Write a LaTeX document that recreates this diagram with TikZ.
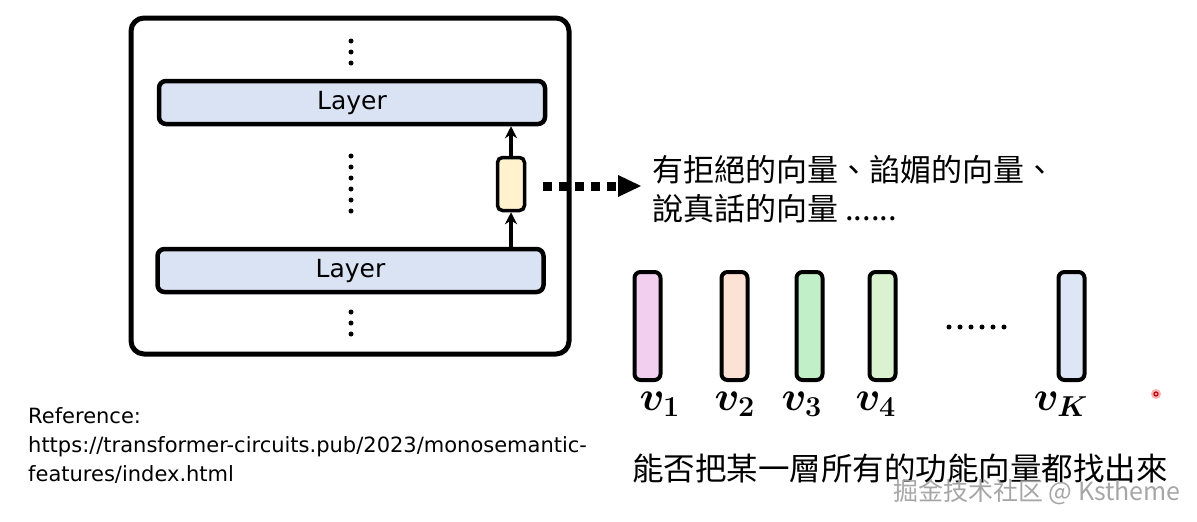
\documentclass[tikz,border=0pt]{standalone}
\usepackage{fontspec}
\usepackage{bm}
\setmainfont{DejaVu Sans}
\newfontfamily\cjk{Noto Sans CJK TC}
\usetikzlibrary{arrows.meta}
\definecolor{layerblue}{HTML}{DAE3F3}
\definecolor{ybox}{HTML}{FFF2CC}
\definecolor{cpink}{HTML}{F2CEEF}
\definecolor{cpeach}{HTML}{FBE2D5}
\definecolor{cgreen}{HTML}{C1F0C8}
\definecolor{clgreen}{HTML}{DAF2D0}
\definecolor{clblue}{HTML}{DCE6F5}
\begin{document}
\begin{tikzpicture}[x=1pt,y=-1pt,
  layerbox/.style={draw=black,line width=4.5pt,rounded corners=7pt,fill=layerblue,minimum width=386pt,minimum height=43pt,inner sep=0pt,font=\fontsize{25}{30}\selectfont},
  vecbox/.style={draw=black,line width=4pt,rounded corners=6pt,minimum width=26pt,minimum height=108pt,inner sep=0pt},
  dotcol/.style={fill=black,circle,inner sep=0pt,minimum size=5pt},
  smallarrow/.style={line width=3.3pt,-{Stealth[length=12pt,width=12pt]}},
  cjktext/.style={font=\cjk\fontsize{31}{40}\selectfont,anchor=west,inner sep=0pt},
  veclabel/.style={font=\fontsize{20}{20}\selectfont,inner sep=0pt}
]
\useasboundingbox (0,0) rectangle (1197,522);
% outer frame
\draw[line width=5pt,rounded corners=13pt] (131,18) rectangle (569,354);
% layers
\node[layerbox] (L1) at (352,102.5) {Layer};
\node[layerbox] (L2) at (350.5,270.5) {Layer};
% dots
\foreach \y in {41,52,63} \node[dotcol] at (351,\y) {};
\foreach \y in {156,167,178,189,200,211} \node[dotcol] at (351,\y) {};
\foreach \y in {312,323,334} \node[dotcol] at (351,\y) {};
% small yellow box
\node[draw=black,line width=3.5pt,rounded corners=5pt,fill=ybox,minimum width=27pt,minimum height=53pt,inner sep=0pt] (Y) at (511,184) {};
\draw[smallarrow] (L2.north -| Y.south) -- (Y.south);
\draw[smallarrow] (Y.north) -- (L1.south -| Y.north);
% texts
\node[cjktext] (T1) at (652,170) {有拒絕的向量、諂媚的向量、};
\node[cjktext] (T2) at (652,209) {說真話的向量 ......};
\coordinate (DS) at (543,186);
\coordinate (DE) at (641,186);
\draw[line width=9pt,dash pattern=on 9pt off 7pt] (DS) -- (618,186);
\fill (618,175) -- (DE) -- (618,197) -- cycle;
% vectors
\node[vecbox,fill=cpink] (V1) at (647.5,326) {};
\node[vecbox,fill=cpeach] (V2) at (734.5,326) {};
\node[vecbox,fill=cgreen] (V3) at (809.5,326) {};
\node[vecbox,fill=clgreen] (V4) at (882.5,326) {};
\node[vecbox,fill=clblue] (VK) at (1071.5,326) {};
\foreach \x in {949,960,971,982,993,1004} \node[dotcol] at (\x,327) {};
\foreach \x/\s in {660/1,735/2,802/3,876/4,1061/K}
  \node[veclabel,anchor=base] (LB\s) at (\x,410) {\scalebox{2}{$\bm{v}_{\bm{\s}}$}};
% reference
\node[anchor=north west,align=left,inner sep=0pt,font=\fontsize{21}{29}\selectfont] (REF) at (28,407) {Reference:\\https://transformer-circuits.pub/2023/monosemantic-\\features/index.html};
% bottom text
\node[font=\cjk\fontsize{31.5}{40}\selectfont,anchor=west,inner sep=0pt] (Q) at (632,469) {能否把某一層所有的功能向量都找出來};
% watermark
\node[font=\cjk\fontsize{25}{30}\selectfont,text=gray!70,anchor=east,inner sep=0pt] (WM) at (1181,492) {掘金技术社区 @ Kstheme};
% laser dot
\fill[red!30] (1156,394) circle (5pt);
\draw[red!80!black,line width=1.2pt] (1156,394) circle (2pt);
\end{tikzpicture}
\end{document}
